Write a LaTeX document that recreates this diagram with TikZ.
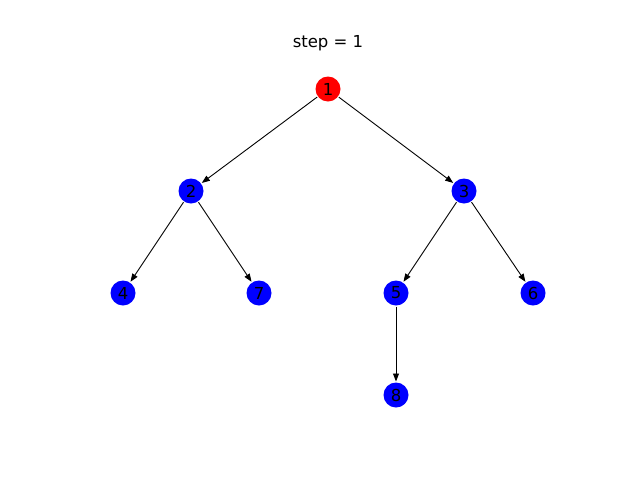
\documentclass[tikz,border=0pt]{standalone}
\usepackage{fontspec}
\setmainfont{DejaVu Sans}
\usetikzlibrary{arrows.meta}
\begin{document}
\begin{tikzpicture}[x=1pt,y=-1pt,
  vert/.style={circle,fill=blue,minimum size=25pt,inner sep=0pt,outer sep=1pt,
    font=\fontsize{16.5}{18}\selectfont},
  root/.style={vert,fill=red},
  edge/.style={draw=black,line width=0.9pt,-{Triangle[length=8pt,width=6pt]}}]
\useasboundingbox (0,0) rectangle (640,480);
\node[font=\fontsize{16.5}{18}\selectfont] (title) at (328,43) {step = 1};
\node[root] (n1) at (328,89) {1};
\node[vert] (n2) at (191,191) {2};
\node[vert] (n3) at (464,191) {3};
\node[vert] (n4) at (123,293) {4};
\node[vert] (n7) at (259,293) {7};
\node[vert] (n5) at (396,293) {5};
\node[vert] (n6) at (533,293) {6};
\node[vert] (n8) at (396,395) {8};
\draw[edge] (n1) -- (n2);
\draw[edge] (n1) -- (n3);
\draw[edge] (n2) -- (n4);
\draw[edge] (n2) -- (n7);
\draw[edge] (n3) -- (n5);
\draw[edge] (n3) -- (n6);
\draw[edge] (n5) -- (n8);
\end{tikzpicture}
\end{document}
